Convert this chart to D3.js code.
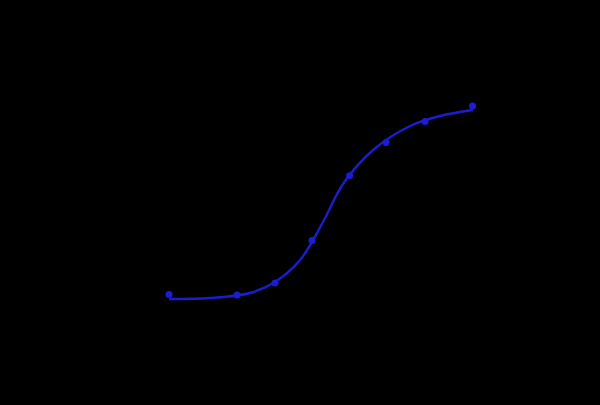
<!DOCTYPE html>
<html>
<head>
<meta charset="utf-8">
<script src="https://cdn.jsdelivr.net/npm/d3@7"></script>
<style>
  html, body { margin: 0; padding: 0; background: #000; }
  svg { display: block; }
</style>
</head>
<body>
<svg width="600" height="405"></svg>
<script>
// standard points (concentration, OD)
var concs = [0.387, 1.34, 2.68, 5.27, 10.47, 20.4, 41.6, 99.1];
var ods   = [0.555, 0.55, 0.67, 1.095, 1.743, 2.075, 2.285, 2.44];

// fitted curve
var curveConcs = [0.387, 0.818, 1.70, 2.68, 4.24, 6.45, 9.29, 16.1, 31.6, 54.7, 100];
var curveOds   = [0.51, 0.52, 0.57, 0.68, 0.90, 1.28, 1.66, 2.00, 2.24, 2.34, 2.40];

var xTicks = [0.1, 1, 10, 100];
var yTicks = [0, 0.5, 1, 1.5, 2, 2.5, 3];

function main(){
    var svg = d3.select("svg");

    // black page, axes drawn in black as in the source
    svg.append("rect").attr("width", 600).attr("height", 405).attr("fill", "#000");

    var xScale = d3.scaleLog().domain([0.1, 200]).range([95, 511]);
    var yScale = d3.scaleLinear().domain([0, 3]).range([350, 50]);

    svg.append("g").attr("transform", "translate(0,350)")
        .call(d3.axisBottom(xScale).tickValues(xTicks).tickFormat(d3.format("~g")));
    svg.append("g").attr("transform", "translate(95,0)")
        .call(d3.axisLeft(yScale).tickValues(yTicks));
    svg.selectAll(".domain, .tick line").attr("stroke", "#000");
    svg.selectAll(".tick text").attr("fill", "#000");

    var curveData = curveConcs.map(function(c, i){ return {c: c, od: curveOds[i]}; });
    var line = d3.line()
        .x(function(d){ return xScale(d.c); })
        .y(function(d){ return yScale(d.od); })
        .curve(d3.curveCatmullRom.alpha(0.5));

    svg.append("path")
        .datum(curveData)
        .attr("d", line)
        .attr("fill", "none")
        .attr("stroke", "#1c1cd2")
        .attr("stroke-width", 2.4);

    svg.selectAll(".pt")
        .data(concs)
        .enter()
        .append("circle")
        .attr("class", "pt")
        .attr("cx", function(d){ return xScale(d); })
        .attr("cy", function(d, i){ return yScale(ods[i]); })
        .attr("r", 3.5)
        .attr("fill", "#1c1cd6");
}
main();
</script>
</body>
</html>
